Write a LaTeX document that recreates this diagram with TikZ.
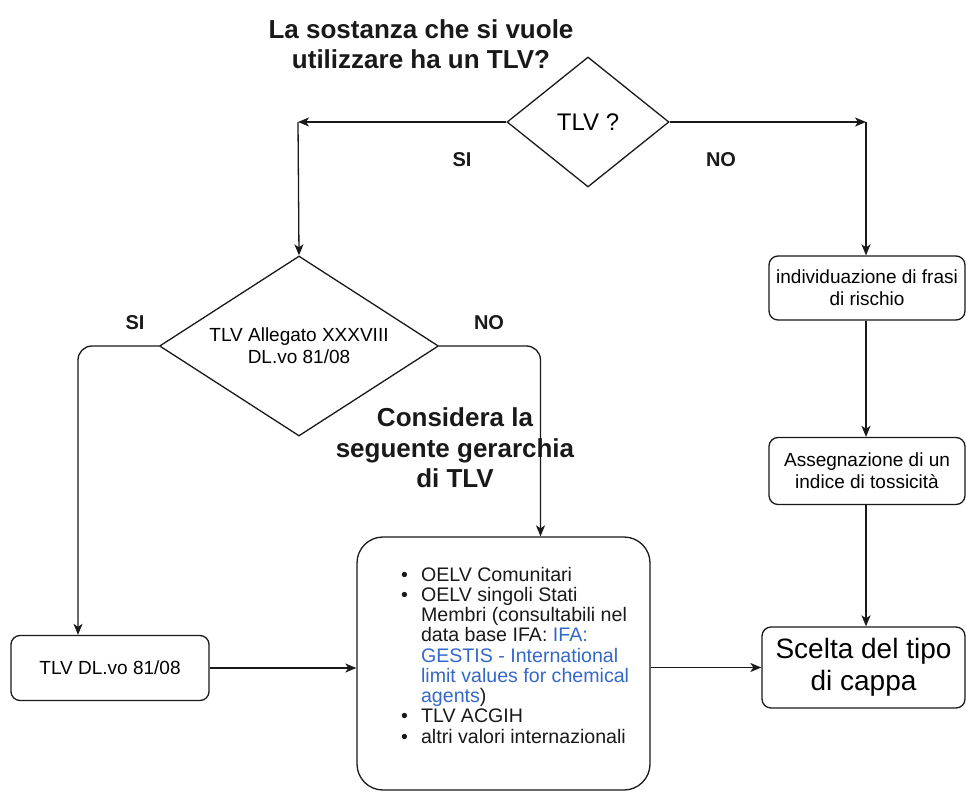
\documentclass[tikz,border=0pt]{standalone}
\usepackage{fontspec}
\setmainfont{Liberation Sans}
\usetikzlibrary{arrows.meta,shapes.geometric,calc}
\definecolor{linkblue}{RGB}{52,104,200}
\definecolor{ink}{RGB}{25,25,25}
\tikzset{
  conn/.style={draw=ink, line width=1.3pt, -{Stealth[length=11pt,width=9pt,inset=3pt]}},
  dia/.style={diamond, draw=ink, line width=1.3pt, inner sep=0pt, align=center},
  rbox/.style={rectangle, rounded corners=9pt, draw=ink, line width=1.3pt, align=center, inner sep=0pt},
  boldlabel/.style={font=\bfseries\fontsize{20}{24}\selectfont, text=ink},
  bigtitle/.style={font=\bfseries\fontsize{26}{30.5}\selectfont, align=center, text=ink, inner sep=0pt},
}
\begin{document}
\begin{tikzpicture}[x=1pt,y=-1pt]
\useasboundingbox (0,0) rectangle (966,797);

% title
\node[bigtitle] (title) at (421,44) {La sostanza che si vuole\\utilizzare ha un TLV?};

% first decision
\node[dia, minimum width=162pt, minimum height=130pt, aspect=1.25,
      font=\fontsize{24}{28}\selectfont] (d1) at (588,122) {TLV ?};
\coordinate (cL) at (298,122);
\coordinate (cR) at (866,122);
\draw[conn] (d1.west) -- (cL);
\draw[conn] (d1.east) -- (cR);
\node[boldlabel] (si1) at (462,160) {SI};
\node[boldlabel] (no1) at (721,160) {NO};

% second decision
\node[dia, minimum width=279pt, minimum height=180pt, aspect=1.55,
      font=\fontsize{19}{22}\selectfont] (d2) at (299,346) {TLV Allegato XXXVIII\\DL.vo 81/08};
\draw[conn] (cL) -- (d2.north);
\node[boldlabel] (si2) at (135,323) {SI};
\node[boldlabel] (no2) at (489,323) {NO};

% left box
\node[rbox, minimum width=198pt, minimum height=65pt,
      font=\fontsize{19}{22}\selectfont] (tlv) at (110,668) {TLV DL.vo 81/08};

% central box
\node[rbox, rounded corners=26pt, minimum width=293pt, minimum height=253pt] (cb) at (503.5,663.5) {};
\node[anchor=west, inner sep=0pt, font=\fontsize{19.6}{20.2}\selectfont, text=ink] (list) at (401,658) {%
\renewcommand{\arraystretch}{1}%
\begin{tabular}{@{}c@{\hspace{13pt}}l@{}}
\textbullet & OELV Comunitari\\
\textbullet & OELV singoli Stati\\
 & Membri (consultabili nel\\
 & data base IFA: \textcolor{linkblue}{IFA:}\\
 & \textcolor{linkblue}{GESTIS - International}\\
 & \textcolor{linkblue}{limit values for chemical}\\
 & \textcolor{linkblue}{agents})\\
\textbullet & TLV ACGIH\\
\textbullet & altri valori internazionali
\end{tabular}};

\node[bigtitle] (cons) at (455,448) {Considera la\\seguente gerarchia\\di TLV};

% right column
\node[rbox, minimum width=196pt, minimum height=64pt,
      font=\fontsize{19}{22}\selectfont] (b1) at (867,288) {individuazione di frasi\\di rischio};
\node[rbox, minimum width=196pt, minimum height=67pt,
      font=\fontsize{19}{22}\selectfont] (b2) at (867,471) {Assegnazione di un\\indice di tossicità};
\node[rbox, minimum width=203pt, minimum height=81pt,
      font=\fontsize{28}{32}\selectfont] (sc) at (863.5,667.5) {Scelta del tipo\\di cappa};

% connectors
\draw[conn] (cR) -- (b1.north -| cR);
\draw[conn] (b1.south -| cR) -- (b2.north -| cR);
\draw[conn] (b2.south -| cR) -- (sc.north -| cR);
\draw[conn, rounded corners=14pt] (d2.west) -| ([xshift=-32pt]tlv.north);
\draw[conn, rounded corners=14pt] (d2.east) -| ([xshift=37pt]cb.north);
\draw[conn] (tlv.east) -- (cb.west |- tlv.east);
\draw[conn] (cb.east |- sc.west) -- (sc.west);
\end{tikzpicture}
\end{document}
